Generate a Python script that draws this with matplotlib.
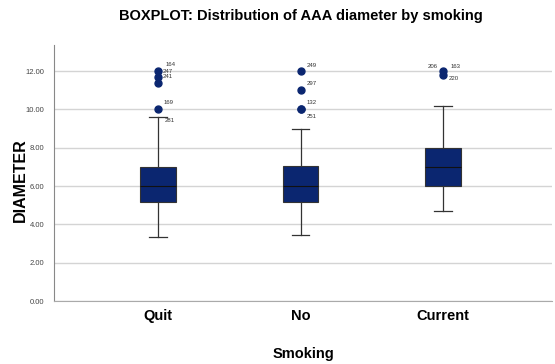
import matplotlib
matplotlib.use('Agg')
import matplotlib.pyplot as plt
import numpy as np

plt.rcParams['font.family'] = ['Liberation Sans', 'DejaVu Sans']

categories = ['Quit', 'No', 'Current']
# box stats: whisker low, Q1, median, Q3, whisker high
whislo = [3.35, 3.45, 4.68]
q1 = [5.17, 5.17, 5.98]
med = [6.0, 6.0, 6.99]
q3 = [6.99, 7.04, 7.97]
whishi = [9.6, 9.0, 10.2]
# outlier values per group (visible dots)
fliers = [
    [12.0, 11.7, 11.4, 10.0],
    [12.0, 11.0, 10.0, 10.0],
    [12.0, 11.8],
]
# case labels: group index, case number, value it sits by
case_group = [0, 0, 0, 0, 0, 1, 1, 1, 1, 2, 2, 2]
case_ids = ['164', '247', '241', '169', '281', '249', '297', '132', '251', '206', '163', '220']
case_vals = [12.0, 12.0, 11.7, 10.0, 9.7, 12.0, 11.0, 10.0, 10.0, 12.0, 12.0, 11.8]

# label placement offsets (x in category units, y in data units)
lab_dx = [0.05, 0.03, 0.03, 0.04, 0.05, 0.04, 0.04, 0.04, 0.04, -0.11, 0.05, 0.04]
lab_dy = [0.33, 0.0, 0.0, 0.35, -0.3, 0.3, 0.35, 0.35, -0.35, 0.25, 0.25, -0.2]

navy = '#0b2670'

fig = plt.figure(figsize=(5.55, 3.64), dpi=100)
ax = fig.add_axes([0.0973, 0.173, 0.8973, 0.703])

stats = []
for i, c in enumerate(categories):
    stats.append(dict(label=c, whislo=whislo[i], q1=q1[i], med=med[i],
                      q3=q3[i], whishi=whishi[i], fliers=fliers[i]))

ax.bxp(stats, positions=[1, 2, 3], widths=0.25, patch_artist=True,
       showfliers=True,
       boxprops=dict(facecolor=navy, edgecolor='#333333', linewidth=0.8),
       medianprops=dict(color='#111111', linewidth=0.8),
       whiskerprops=dict(color='#333333', linewidth=0.9),
       capprops=dict(color='#333333', linewidth=0.9),
       capwidths=0.125,
       flierprops=dict(marker='o', markerfacecolor=navy, markeredgecolor=navy,
                       markersize=5, linestyle='none'))

# case number labels next to outliers
for g, lab, v, dx, dy in zip(case_group, case_ids, case_vals, lab_dx, lab_dy):
    ax.text(g + 1 + dx, v + dy, lab, fontsize=4.3, va='center', ha='left', color='#333333')

ax.set_xlim(0.27, 3.765)
ax.set_ylim(0, 13.36)
ticks = np.arange(0, 13, 2)
ax.set_yticks(ticks)
ax.set_yticklabels([f'{t:.2f}' for t in ticks], fontsize=5.5, color='#444444')
ax.yaxis.grid(True, color='#d4d4d4', linewidth=1.0)
ax.set_axisbelow(True)
ax.tick_params(axis='y', length=0, pad=7)
ax.tick_params(axis='x', length=0, pad=6)
ax.set_xticks([1, 2, 3])
ax.set_xticklabels(categories, fontsize=10.5, fontweight='bold')

for s in ['top', 'right']:
    ax.spines[s].set_visible(False)
ax.spines['left'].set_color('#888888')
ax.spines['bottom'].set_color('#aaaaaa')

ax.set_xlabel('Smoking', fontsize=10.5, fontweight='bold', labelpad=17)
fig.text(20 / 555, 1 - 180 / 364, 'DIAMETER', fontsize=11.5, fontweight='bold',
         rotation=90, ha='center', va='center')
fig.text(0.542, 0.957, 'BOXPLOT: Distribution of AAA diameter by smoking',
         fontsize=10.5, fontweight='bold', ha='center', va='center')

fig.savefig('out.png', dpi=100)
